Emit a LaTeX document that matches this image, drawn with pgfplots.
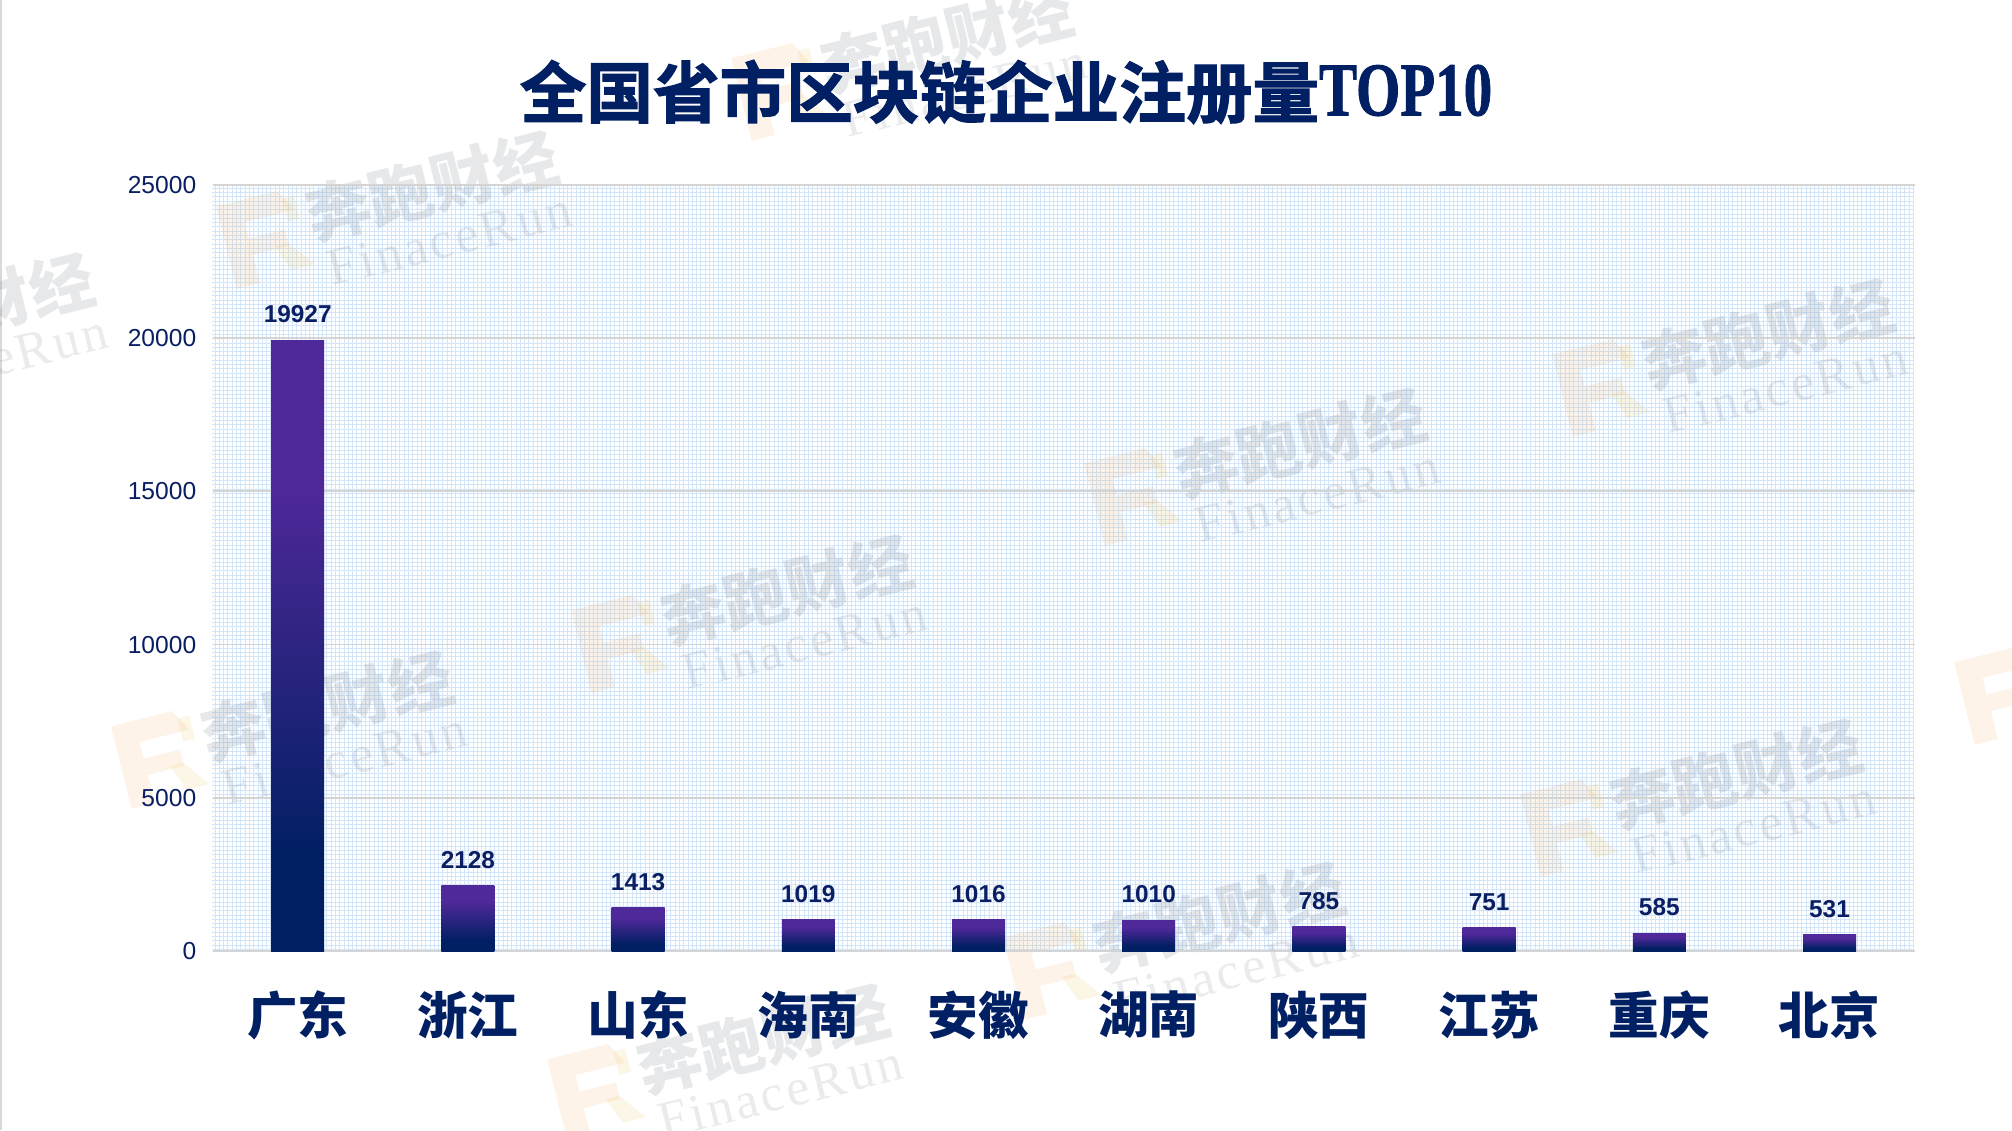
\documentclass[border=0pt]{standalone}
\usepackage{fontspec}
\usepackage{graphicx}
\usepackage{pgfplots}
\pgfplotsset{compat=1.18}
\setmainfont{Liberation Sans}
\newfontfamily\cjk{Noto Sans CJK SC}
\newfontfamily\cjktitle[FakeBold=1.8]{Noto Sans CJK SC Bold}
\newfontfamily\serifb[FakeBold=1.2]{Liberation Serif Bold}
\newfontfamily\serifw{Liberation Serif}
\definecolor{nv}{HTML}{011F63}
\definecolor{pp}{HTML}{4F2899}
\definecolor{txt}{HTML}{0A1F63}
\definecolor{gridb}{HTML}{D3E5F6}
\definecolor{wmg}{HTML}{4E5F70}
\definecolor{wmo}{HTML}{F09030}
\definecolor{wmy}{HTML}{F0C050}
\pgfdeclareverticalshading{barsh}{100bp}{color(0bp)=(nv);color(33bp)=(nv);color(63bp)=(pp);color(100bp)=(pp)}
\newcommand{\wm}[2]{%
  \begin{scope}[shift={({(#1)/2*1pt},{(1130-(#2))/2*1pt})},rotate=14,transform shape]
    \node[text=wmg,text opacity=.14,font=\fontsize{32}{33}\selectfont\cjk\bfseries,inner sep=0pt] at (0,0) {奔跑财经};
    \node[text=wmg,text opacity=.12,font=\fontsize{26}{27}\selectfont\serifw,inner sep=0pt] at (2pt,-28pt) {F\kern1.5pt i\kern1.5pt n\kern1.5pt a\kern1.5pt c\kern1.5pt e\kern1.5pt R\kern1.5pt u\kern1.5pt n};
    \begin{scope}[shift={(-88.5pt,-5pt)},scale=.85]
      \fill[wmo,opacity=.10] (-22pt,-25pt) -- (-22pt,25pt) -- (15pt,25pt) -- (22pt,12pt) -- (8pt,12pt) -- (-8pt,12pt) -- (-8pt,2pt) -- (14pt,2pt) -- (14pt,-8pt) -- (-8pt,-8pt) -- (-8pt,-25pt) -- cycle;
      \fill[wmy,opacity=.14] (6pt,-6pt) -- (14pt,-6pt) -- (26pt,-22pt) -- (12pt,-22pt) -- cycle;
      \fill[wmy,opacity=.14] (17pt,20pt) -- (24pt,20pt) -- (24pt,6pt) -- (17pt,6pt) -- cycle;
    \end{scope}
  \end{scope}}
\pgfplotsset{onebar/.style={shading=barsh,draw=none,forget plot}}
\begin{document}
\begin{tikzpicture}[x=1pt,y=1pt]
\useasboundingbox (0,0) rectangle (1006,565);
\fill[white] (0,0) rectangle (1006,565);
\fill[black!15] (0,0) rectangle (1.2,565);
% fine background lattice
\fill[white!96!gridb] (106,89.5) rectangle (957,472.5);
\draw[gridb,line width=.5pt,step=2.15pt] (106,89.5) grid (957,472.5);
% watermarks
\begin{scope}
\clip (0,0) rectangle (1006,565);
\wm{432}{186}
\wm{947}{38}
\wm{1300}{443}
\wm{787}{590}
\wm{1768}{334}
\wm{327}{706}
\wm{1736}{774}
\wm{1219}{917}
\wm{763}{1039}
\wm{-32}{308}
\wm{2170}{642}
\end{scope}
\begin{axis}[
  at={(106.3pt,89.5pt)},anchor=south west,
  scale only axis,width=851pt,height=383pt,
  xmin=-0.5,xmax=9.5,ymin=0,ymax=25000,
  ybar,bar width=26.5pt,bar shift=0pt,
  xtick={0,1,2,3,4,5,6,7,8,9},
  xticklabels={广东,浙江,山东,海南,安徽,湖南,陕西,江苏,重庆,北京},
  ytick={0,5000,10000,15000,20000,25000},
  scaled y ticks=false,
  ymajorgrids,
  grid style={draw=black!17,line width=.9pt},
  axis line style={draw=none},
  major tick length=0pt,
  clip=false,
  /pgf/number format/assume math mode=true,
  /pgf/number format/1000 sep={},
  yticklabel style={font=\fontsize{12.3}{14}\selectfont,text=txt,inner sep=0pt,xshift=-8pt,/pgf/number format/fixed},
  xticklabel style={font=\fontsize{25.3}{27}\selectfont\cjk\bfseries,text=nv,inner sep=0pt,yshift=-19.7pt},
  nodes near coords,
  every node near coord/.append style={font=\fontsize{12.2}{14}\selectfont\bfseries,text=txt,inner sep=0pt,yshift=8.5pt,/pgf/number format/fixed},
]
\addplot[onebar] coordinates {(0,19927)};
\addplot[onebar] coordinates {(1,2128)};
\addplot[onebar] coordinates {(2,1413)};
\addplot[onebar] coordinates {(3,1019)};
\addplot[onebar] coordinates {(4,1016)};
\addplot[onebar] coordinates {(5,1010)};
\addplot[onebar] coordinates {(6,785)};
\addplot[onebar] coordinates {(7,751)};
\addplot[onebar] coordinates {(8,585)};
\addplot[onebar] coordinates {(9,531)};
\end{axis}
\node[text=nv,inner sep=0pt,anchor=center] at (503,519) {\fontsize{33.3}{36}\selectfont\cjktitle 全国省市区块链企业注册量\raisebox{1pt}{\scalebox{0.75}[1]{\fontsize{38}{40}\selectfont\serifb TOP10}}};
\end{tikzpicture}
\end{document}
